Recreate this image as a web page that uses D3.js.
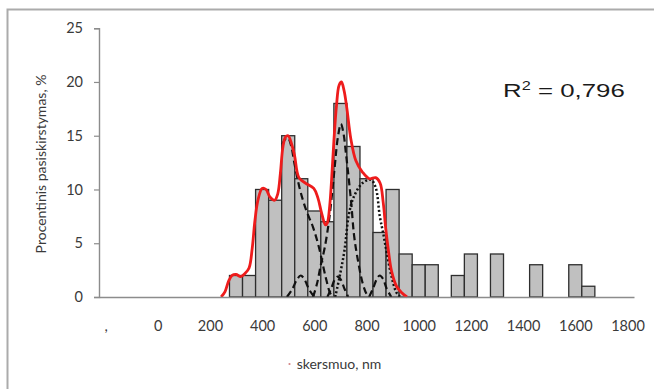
<!DOCTYPE html>
<html>
<head>
<meta charset="utf-8">
<script src="https://cdn.jsdelivr.net/npm/d3@7/dist/d3.min.js"></script>
<style>
  html, body { margin: 0; padding: 0; background: #fff; }
  svg { display: block; }
  text { font-family: Lato, "Open Sans", sans-serif; }
</style>
</head>
<body>
<svg id="chart" width="654" height="389"></svg>
<script>
// Histogram bins (centre of each 50 nm class) and share of particles, %
const binCenters = [300, 350, 400, 450, 500, 550, 600, 650, 700, 750, 800, 850, 900, 950,
                    1000, 1050, 1100, 1150, 1200, 1250, 1300, 1350, 1400, 1450, 1500, 1550, 1600, 1650];
const binPercent = [2, 2, 10, 9, 15, 11, 8, 7, 18, 14, 11, 6, 10, 4,
                    3, 3, 0, 2, 4, 0, 4, 0, 0, 3, 0, 0, 3, 1];

// Axis ticks
const xTickValues = [-200, 0, 200, 400, 600, 800, 1000, 1200, 1400, 1600, 1800];
const xTickLabels = [",", "0", "200", "400", "600", "800", "1000", "1200", "1400", "1600", "1800"];
const yTickValues = [0, 5, 10, 15, 20, 25];

// Summed fit (red) as [diameter, %]
const fitCurve = [[243,0],[258,0.5],[272,1.5],[285,2.0],[300,2.1],[318,1.9],[335,2.2],[350,2.7],
  [362,4.5],[372,7],[384,9.0],[400,10.1],[415,10.0],[430,9.3],[448,9.0],[460,9.6],[470,11.5],
  [480,14],[490,14.9],[500,15.0],[512,14.3],[524,13.2],[541,11.1],[566,10.6],[598,10.1],
  [614,9.2],[628,7.8],[643,6.7],[650,6.9],[658,8.2],[666,10.8],[675,14.5],[685,17.8],[695,19.7],
  [704,20.0],[714,19.2],[725,17.5],[740,14.7],[759,12.7],[785,11.6],[811,11.0],[835,11.1],
  [852,10.6],[864,8.8],[874,6.3],[884,4.3],[896,2.4],[915,1.0],[935,0.4],[955,0]];

// Individual fitted components (dashed)
const peak500 = [[478,14.2],[486,14.6],[494,14.8],[500,14.8],[512,14],
  [524,12.4],[545,10],[570,8],[595,6.5],[617,4.7],[643,1.9],[660,0.4],[670,0]];
const peak700 = [[595,0],[610,1.2],[625,3],[640,4.6],[658,7.4],[677,11.8],[690,14.8],[702,16.1],
  [712,15.2],[721,13.4],[732,11],[742,8.6],[752,5.8],[765,3.7],[785,1.3],[800,0.3],[810,0]];
const bump550 = [[495,0],[515,0.7],[533,1.6],[548,2],[563,1.6],[580,0.7],[600,0]];
const bump690 = [[650,0],[665,0.8],[678,1.6],[690,1.9],[702,1.6],[715,0.8],[730,0]];
const bump850 = [[810,0],[825,0.8],[840,1.7],[851,2],[863,1.7],[877,0.8],[895,0]];
const dashedComponents = [peak500, peak700, bump550, bump690, bump850];

// Broad component (dotted)
const broad820 = [[680,0],[697,1.9],[716,4.4],[732,7.6],[751,9.3],[785,10.6],[817,10.9],
  [835,10.2],[851,7.5],[865,5.8],[877,4.2],[896,1.9],[915,0.4],[930,0]];

const svg = d3.select("#chart");

// Outer chart-area frame
svg.append("rect")
  .attr("x", 7.5).attr("y", 9.5)
  .attr("width", 700).attr("height", 420)
  .attr("fill", "none").attr("stroke", "#ababab").attr("stroke-width", 2);

const x = d3.scaleLinear().domain([-225, 1825]).range([99, 634]);
const y = d3.scaleLinear().domain([0, 25]).range([297, 28.2]);
const binWidth = 50;

// Bars
svg.append("g").selectAll("rect")
  .data(binCenters.map((c, i) => ({c, v: binPercent[i]})).filter(d => d.v > 0))
  .join("rect")
  .attr("x", d => x(d.c - binWidth / 2))
  .attr("y", d => y(d.v))
  .attr("width", d => x(d.c + binWidth / 2) - x(d.c - binWidth / 2))
  .attr("height", d => y(0) - y(d.v))
  .attr("fill", "#c0c0c0")
  .attr("stroke", "#2e2e2e")
  .attr("stroke-width", 1.3);

const line = d3.line()
  .x(d => x(d[0])).y(d => y(d[1]))
  .curve(d3.curveCatmullRom.alpha(0.5));

// Component curves
svg.append("g").selectAll("path")
  .data(dashedComponents)
  .join("path")
  .attr("d", line)
  .attr("fill", "none")
  .attr("stroke", "#111")
  .attr("stroke-width", 2.2)
  .attr("stroke-dasharray", "7,4");

svg.append("path")
  .attr("d", line(broad820))
  .attr("fill", "none")
  .attr("stroke", "#111")
  .attr("stroke-width", 2.5)
  .attr("stroke-dasharray", "2,2.2");

// Summed fit
svg.append("path")
  .attr("d", line(fitCurve))
  .attr("fill", "none")
  .attr("stroke", "#ee1c1c")
  .attr("stroke-width", 2.8)
  .attr("stroke-linejoin", "round");

// Axes
const xAxis = svg.append("g")
  .attr("transform", `translate(0,${y(0)})`)
  .call(d3.axisBottom(x).tickValues(xTickValues)
    .tickFormat((d, i) => xTickLabels[i]).tickSize(0).tickPadding(24));
const yAxis = svg.append("g")
  .attr("transform", `translate(${x(-225)},0)`)
  .call(d3.axisLeft(y).tickValues(yTickValues).tickSize(5).tickPadding(11));

[xAxis, yAxis].forEach(g => {
  g.select(".domain").attr("stroke", "#8c8c8c").attr("stroke-width", 1.4);
  g.selectAll(".tick line").attr("stroke", "#8c8c8c").attr("stroke-width", 1.2);
  g.selectAll(".tick text").attr("fill", "#3a3a3a")
    .style("font-size", "14.5px").style("font-family", "Lato, 'Open Sans', sans-serif");
});

// Axis titles
svg.append("text")
  .attr("transform", "translate(46,164) rotate(-90)")
  .attr("text-anchor", "middle")
  .attr("fill", "#3a3a3a")
  .style("font-size", "14px")
  .text("Procentinis pasiskirstymas, %");

svg.append("circle")
  .attr("cx", 289.5).attr("cy", 364).attr("r", 1.1)
  .attr("fill", "#c05050").attr("opacity", 0.7);

svg.append("text")
  .attr("x", 339).attr("y", 368.5)
  .attr("text-anchor", "middle")
  .attr("fill", "#3a3a3a")
  .style("font-size", "14px")
  .text("skersmuo, nm");

// Coefficient of determination
const r2 = svg.append("g")
  .attr("transform", "translate(503,97) scale(1.36,1)")
  .append("text")
  .attr("fill", "#1a1a1a")
  .style("font-family", "'Liberation Sans', Arial, sans-serif")
  .style("font-size", "19px");
r2.append("tspan").text("R");
r2.append("tspan").attr("dy", -7).style("font-size", "12px").text("2");
r2.append("tspan").attr("dy", 7).text(" = 0,796");
</script>
</body>
</html>
